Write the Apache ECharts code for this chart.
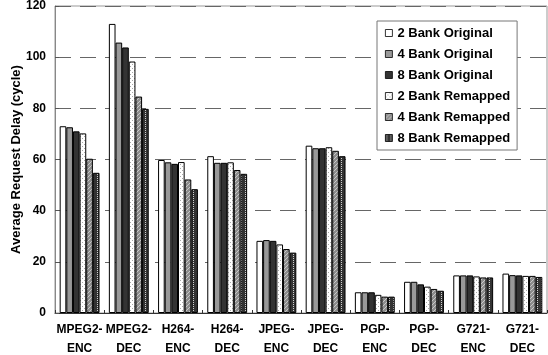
<!DOCTYPE html>
<html>
<head>
<meta charset="utf-8">
<script src="https://cdn.jsdelivr.net/npm/echarts@6/dist/echarts.min.js"></script>
<style>
  html, body { margin: 0; padding: 0; background: #fff; }
  #chart { width: 548px; height: 355px; }
</style>
</head>
<body>
<div id="chart"></div>
<script>
// Benchmarks on the x axis
const categories = ['MPEG2-\nENC', 'MPEG2-\nDEC', 'H264-\nENC', 'H264-\nDEC', 'JPEG-\nENC',
                    'JPEG-\nDEC', 'PGP-\nENC', 'PGP-\nDEC', 'G721-\nENC', 'G721-\nDEC'];

// Average request delay (cycles) per configuration
const bank2Original  = [73.0, 113.0, 59.8, 61.3, 28.2, 65.4, 8.1, 12.2, 14.7, 15.4];
const bank4Original  = [72.6, 105.7, 58.9, 58.7, 28.5, 64.4, 8.1, 12.2, 14.7, 14.8];
const bank8Original  = [71.0, 103.8, 58.3, 58.7, 28.2, 64.4, 8.1, 11.2, 14.7, 14.7];
const bank2Remapped  = [70.2,  98.3, 59.0, 58.9, 26.8, 64.8, 7.1, 10.3, 14.3, 14.5];
const bank4Remapped  = [60.3,  84.6, 52.2, 55.9, 25.0, 63.4, 6.4,  9.4, 13.9, 14.5];
const bank8Remapped  = [54.8,  79.8, 48.4, 54.4, 23.6, 61.3, 6.4,  8.7, 13.9, 14.1];

const yTicks = [0, 20, 40, 60, 80, 100, 120];

// Small tiled fills for the remapped series
function dotPattern(bg, dot, cells) {
  const c = document.createElement('canvas');
  c.width = 4; c.height = 4;
  const g = c.getContext('2d');
  g.fillStyle = bg; g.fillRect(0, 0, 4, 4);
  g.fillStyle = dot;
  cells.forEach(p => g.fillRect(p[0], p[1], 1, 1));
  return { image: c, repeat: 'repeat' };
}
const fillWhiteDots = dotPattern('#ffffff', '#a8a8a8', [[0, 0], [2, 2]]);
const fillGreyDots  = dotPattern('#8c8c8c', '#c8c8c8', [[0, 0], [2, 2], [1, 3], [3, 1]]);
const fillDarkDots  = dotPattern('#333333', '#d0d0d0', [[1, 0], [1, 2]]);

const seriesDefs = [
  { name: '2 Bank Original', data: bank2Original, color: '#ffffff' },
  { name: '4 Bank Original', data: bank4Original, color: '#999999' },
  { name: '8 Bank Original', data: bank8Original, color: '#333333' },
  { name: '2 Bank Remapped', data: bank2Remapped, color: fillWhiteDots },
  { name: '4 Bank Remapped', data: bank4Remapped, color: fillGreyDots },
  { name: '8 Bank Remapped', data: bank8Remapped, color: fillDarkDots }
];

const font = 'Arial, "Liberation Sans", sans-serif';

const chart = echarts.init(document.getElementById('chart'), null, { renderer: 'canvas' });
chart.setOption({
  animation: false,
  backgroundColor: '#ffffff',
  grid: {
    left: 55, right: 1, top: 6, bottom: 42,
    outerBoundsMode: 'none', containLabel: false,
    show: true, borderColor: '#999999', borderWidth: 1, backgroundColor: 'transparent'
  },
  legend: {
    orient: 'vertical',
    left: 377, top: 21,
    padding: [5, 7, 5, 8],
    backgroundColor: '#ffffff',
    borderColor: '#777777', borderWidth: 1,
    itemWidth: 7, itemHeight: 7, itemGap: 7,
    icon: 'rect',
    itemStyle: { borderColor: '#000000', borderWidth: 0.8 },
    textStyle: { fontFamily: font, fontWeight: 'bold', fontSize: 13, color: '#000', lineHeight: 14 },
    data: seriesDefs.map(s => s.name)
  },
  xAxis: {
    type: 'category',
    data: categories,
    axisLine: { lineStyle: { color: '#333333', width: 1 } },
    axisTick: { show: true, inside: true, length: 3, lineStyle: { color: '#333' } },
    axisLabel: {
      interval: 0, margin: 7,
      fontFamily: font, fontWeight: 'bold', fontSize: 12, color: '#000', lineHeight: 19
    },
    splitLine: { show: false }
  },
  yAxis: {
    type: 'value',
    min: yTicks[0], max: yTicks[yTicks.length - 1], interval: 20,
    name: 'Average Request Delay (cycle)',
    nameLocation: 'middle', nameGap: 32, nameMoveOverlap: false,
    nameTextStyle: { fontFamily: font, fontWeight: 'bold', fontSize: 13, color: '#000' },
    axisLine: { show: true, lineStyle: { color: '#888888' } },
    axisTick: { show: true, inside: true, length: 4, lineStyle: { color: '#555' } },
    axisLabel: { margin: 9, fontFamily: font, fontWeight: 'bold', fontSize: 12, color: '#000' },
    splitLine: { show: true, lineStyle: { color: '#666666', type: [16, 9], width: 1 } }
  },
  series: seriesDefs.map(s => ({
    name: s.name,
    type: 'bar',
    data: s.data,
    barGap: '0%',
    barCategoryGap: '19%',
    itemStyle: { color: s.color, borderColor: '#000000', borderWidth: 1 }
  }))
});
</script>
</body>
</html>
